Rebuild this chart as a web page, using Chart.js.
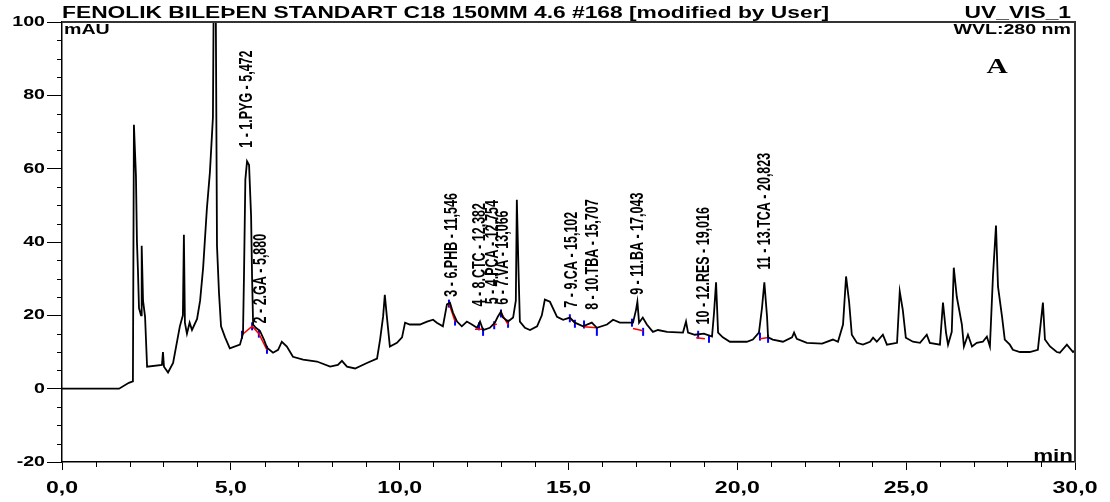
<!DOCTYPE html>
<html>
<head>
<meta charset="utf-8">
<script src="https://cdn.jsdelivr.net/npm/chart.js@4.4.1/dist/chart.umd.min.js"></script>
<style>
  html, body { margin: 0; padding: 0; background: #fff; }
</style>
</head>
<body>
<canvas id="chart" width="1110" height="502"></canvas>
<script>
// retention time (min) and detector signal (mAU)
const times = [
  0, 1.69, 1.98, 2.10, 2.13, 2.16, 2.19, 2.22, 2.25, 2.28, 2.34, 2.36, 2.40, 2.46, 2.52,
  2.96, 2.99, 3.02, 3.14, 3.29, 3.49, 3.58, 3.61, 3.64, 3.70, 3.78, 3.85, 4.00, 4.09, 4.18, 4.29, 4.38, 4.47, 4.50, 4.55, 4.59, 4.65, 4.71, 4.83, 4.97,
  5.27, 5.36, 5.39, 5.43, 5.48, 5.54, 5.60, 5.63, 5.66, 5.74, 5.86, 5.98, 6.07,
  6.25, 6.40, 6.51, 6.66, 6.84, 7.14, 7.55, 7.94, 8.17, 8.29, 8.44, 8.68, 9.03, 9.33, 9.42, 9.51, 9.56, 9.62, 9.71, 9.92, 10.07, 10.16, 10.30, 10.60, 10.81, 10.99, 11.10, 11.28,
  11.40, 11.49, 11.58, 11.70, 11.84, 11.99, 12.14, 12.29, 12.38, 12.47, 12.67, 12.82, 12.91, 13.00, 13.06, 13.21, 13.36, 13.44, 13.47, 13.52,
  13.56, 13.71, 13.86, 14.07, 14.21, 14.30, 14.45, 14.66, 14.84, 15.04, 15.19, 15.43, 15.69, 15.84, 16.14, 16.32, 16.52, 16.91, 17.00, 17.04,
  17.09, 17.20, 17.32, 17.50, 17.65, 17.92,
  18.39, 18.48, 18.54, 18.74, 19.01, 19.25, 19.31, 19.37, 19.43, 19.57, 19.78, 20.08, 20.28, 20.46, 20.64, 20.73, 20.80, 20.88, 20.91, 21.05,
  21.35, 21.62, 21.68, 21.76, 22.06, 22.51, 22.83, 22.98, 23.13, 23.22, 23.31, 23.39, 23.54, 23.72, 23.93, 24.02, 24.13, 24.31, 24.43, 24.73,
  24.81, 24.90, 24.99, 25.20, 25.41, 25.61, 25.70, 26.00, 26.09, 26.18, 26.24, 26.35, 26.41, 26.50, 26.56, 26.65, 26.71, 26.83, 26.95, 27.09,
  27.27, 27.39, 27.48, 27.57, 27.66, 27.72, 27.84, 27.92, 28.07, 28.16, 28.37, 28.66, 28.90, 28.99, 29.05, 29.11, 29.26, 29.46, 29.55, 29.76,
  29.94, 30.0
];
const signal = [
  0, 0, 1.6, 2.0, 72, 65, 58, 40, 32, 22, 20, 39, 24, 19.6, 6,
  6.5, 10, 6, 4.4, 7, 17, 20, 42, 18, 15, 18, 16, 19, 24, 33, 49, 59, 74, 118, 112, 39, 26, 17, 14, 11,
  12, 15, 31, 57, 62, 61, 47, 30, 17.5, 16.6, 15.8, 13.4, 11.2,
  9.8, 10.6, 12.8, 11.5, 8.7, 7.9, 7.4, 6, 6.5, 7.6, 6, 5.5, 7, 8.2, 13.4, 19.7, 25.6, 19.7, 11.5, 12.5, 14, 18, 17.5, 17.5, 18.3, 18.8, 18, 17,
  23, 23.4, 20.7, 18.3, 17, 18.3, 17.5, 16.6, 18.3, 16, 16.6, 18, 19.7, 21, 19.4, 18.3, 19.4, 24, 51.5, 32,
  18.3, 16.6, 16, 17, 20, 24.3, 23.7, 19.6, 18.8, 19.4, 18, 17, 18, 16.6, 17.5, 18.8, 18, 18, 21.5, 23.7,
  18, 19.4, 17.5, 15.5, 16, 15.5,
  15.3, 18.3, 15.3, 14.7, 15, 14.2, 20.7, 29, 15.3, 14, 12.8, 12.8, 12.8, 13.4, 15.3, 22, 29, 19.6, 14, 13.4,
  12.8, 14, 15.3, 13.6, 12.5, 12.3, 13.4, 12.8, 17.5, 30.6, 23.7, 14.7, 12.5, 12, 12.8, 13.9, 12.8, 14.7, 12, 12.5,
  26.5, 21.5, 13.9, 12.8, 12.5, 14.7, 12.5, 12, 23.5, 15.3, 12, 15.5, 33, 25, 22, 17.5, 11.5, 14.7, 11.5, 12.5,
  12.8, 14.2, 11.5, 30.6, 44.5, 27.8, 19.6, 13.4, 12, 10.6, 10, 10, 10.6, 18.3, 23.5, 13.4, 11.5, 10, 9.8, 12,
  10, 10.4
];

// identified peaks
const peakTimes = [5.472, 5.880, 11.546, 12.382, 12.754, 13.066, 15.102, 15.707, 17.043, 19.016, 20.823];
const peakLabels = [
  '1 - 1.PYG - 5,472', '2 - 2.GA - 5,880', '3 - 6.PHB - 11,546', '4 - 8.CTC - 12,382',
  '5 - 4.PCA - 12,754', '6 - 7.VA - 13,066', '7 - 9.CA - 15,102', '8 - 10.TBA - 15,707',
  '9 - 11.BA - 17,043', '10 - 12.RES - 19,016', '11 - 13.TCA - 20,823'
];
const labelBase = [65.7, 17.8, 25.1, 22.4, 23, 22.9, 22.1, 21.5, 25.6, 17.5, 32.5];

// integration baselines (null = break) and peak delimiters
const baselineT = [5.33, 5.63, 5.83, 6.07, null, 11.46, 11.64, null, 12.23, 12.47, null, 12.73, 12.88, null,
  13.00, 13.21, null, 15.04, 15.19, null, 15.46, 15.84, null, 16.91, 17.21, null, 18.78, 19.04, null, 20.67, 20.88];
const baselineV = [14.7, 17, 15, 10.6, null, 23.2, 18.3, null, 16.2, 16.2, null, 17.2, 17.6, null,
  20.8, 17.5, null, 19.2, 17.9, null, 16.9, 16.6, null, 16.4, 15.8, null, 13.9, 13.6, null, 13.6, 13.9];
const markT = [5.33, 5.63, 5.83, 6.07, 11.46, 11.64, 12.35, 12.47, 12.80, 13.00, 13.21, 15.04, 15.19, 15.46, 15.84, 16.88, 17.21, 18.84, 19.16, 20.67, 20.91];
const markV = [14.7, 17, 15, 10.6, 23.2, 18.3, 17, 15.5, 17.3, 20.5, 17.7, 19.2, 17.7, 17.5, 15.5, 18, 15.5, 14.7, 13.6, 14.2, 13.6];

const xTicksMajor = 5, xTicksMinor = 1;
const yTicksMajor = 20, yTicksMinor = 5;

const STRETCH = 1.4; // the original print is wide-set
const FONT = '"Liberation Sans", Arial, sans-serif';

function wideText(ctx, text, x, y, size, align, family) {
  ctx.save();
  ctx.translate(x, y);
  ctx.scale(STRETCH, 1);
  ctx.font = 'bold ' + size + 'px ' + (family || FONT);
  ctx.textAlign = align || 'left';
  ctx.fillText(text, 0, 0);
  ctx.restore();
}

const decorations = {
  id: 'decorations',
  afterDraw(chart) {
    const { ctx, chartArea: a, scales: { x, y } } = chart;
    ctx.save();

    // top and right frame
    ctx.strokeStyle = '#333';
    ctx.lineWidth = 2;
    ctx.beginPath();
    ctx.moveTo(a.left, a.top);
    ctx.lineTo(a.right, a.top);
    ctx.lineTo(a.right, a.bottom);
    ctx.stroke();

    // minor ticks
    ctx.strokeStyle = '#000';
    ctx.lineWidth = 1;
    ctx.beginPath();
    for (let v = y.min; v <= y.max; v += yTicksMinor) {
      if (v % yTicksMajor === 0) continue;
      const py = Math.round(y.getPixelForValue(v)) + 0.5;
      ctx.moveTo(a.left - 5, py);
      ctx.lineTo(a.left, py);
    }
    for (let t = x.min; t <= x.max; t += xTicksMinor) {
      if (t % xTicksMajor === 0) continue;
      const px = Math.round(x.getPixelForValue(t)) + 0.5;
      ctx.moveTo(px, a.bottom);
      ctx.lineTo(px, a.bottom + 5);
    }
    ctx.stroke();

    ctx.fillStyle = '#000';
    // tick labels
    ctx.textBaseline = 'middle';
    y.ticks.forEach(tk => wideText(ctx, String(tk.value), a.left - 17, y.getPixelForValue(tk.value), 14, 'right'));
    ctx.textBaseline = 'alphabetic';
    x.ticks.forEach(tk => wideText(ctx, tk.value.toFixed(1).replace('.', ','), x.getPixelForValue(tk.value), a.bottom + 31, 16.5, 'center'));

    // header texts
    wideText(ctx, 'FENOLIK BILEÞEN STANDART C18 150MM 4.6 #168 [modified by User]', a.left, 18, 16.3, 'left');
    wideText(ctx, 'UV_VIS_1', a.right - 4, 18, 16.3, 'right');
    wideText(ctx, 'mAU', a.left + 2, 34, 14, 'left');
    wideText(ctx, 'WVL:280 nm', a.right - 4, 34, 14, 'right');
    wideText(ctx, 'min', a.right - 2, a.bottom - 1, 16, 'right');
    wideText(ctx, 'A', 997, 73, 21, 'center', '"Liberation Serif", "DejaVu Serif", serif');

    // peak labels, vertical
    ctx.font = 'bold 12.5px ' + FONT;
    ctx.textAlign = 'left';
    ctx.textBaseline = 'middle';
    peakTimes.forEach((t, i) => {
      ctx.save();
      ctx.translate(x.getPixelForValue(t), y.getPixelForValue(labelBase[i]));
      ctx.scale(1.5, 1);
      ctx.rotate(-Math.PI / 2);
      ctx.fillText(peakLabels[i], 0, 0);
      ctx.restore();
    });
    ctx.restore();
  }
};

new Chart(document.getElementById('chart'), {
  type: 'line',
  data: {
    datasets: [
      {
        label: 'UV_VIS_1',
        data: times.map((t, i) => ({ x: t, y: signal[i] })),
        borderColor: '#000',
        borderWidth: 1.8,
        pointRadius: 0,
        tension: 0
      },
      {
        label: 'baseline',
        data: baselineT.map((t, i) => ({ x: t === null ? baselineT[i - 1] : t, y: baselineV[i] })),
        borderColor: '#ff0000',
        borderWidth: 1.5,
        pointRadius: 0,
        spanGaps: false
      },
      {
        label: 'delimiters',
        data: markT.map((t, i) => ({ x: t, y: markV[i] })),
        showLine: false,
        pointStyle: 'line',
        pointRotation: 90,
        pointRadius: 4,
        pointBorderWidth: 2,
        pointBorderColor: '#0000ff'
      }
    ]
  },
  options: {
    responsive: false,
    animation: false,
    devicePixelRatio: 1,
    layout: { padding: { top: 22, right: 35, left: 0, bottom: 0 } },
    plugins: { legend: { display: false }, tooltip: { enabled: false } },
    scales: {
      x: {
        type: 'linear', min: 0, max: 30,
        ticks: { stepSize: xTicksMajor, display: false },
        grid: { drawOnChartArea: false, tickLength: 8, color: '#000' },
        border: { color: '#000', width: 1.5 },
        afterFit(s) { s.height = 40; }
      },
      y: {
        min: -20, max: 100,
        ticks: { stepSize: yTicksMajor, display: false },
        grid: { drawOnChartArea: false, tickLength: 15, color: '#000' },
        border: { color: '#000', width: 1.5 },
        afterFit(s) { s.width = 62; }
      }
    }
  },
  plugins: [decorations]
});
</script>
</body>
</html>
